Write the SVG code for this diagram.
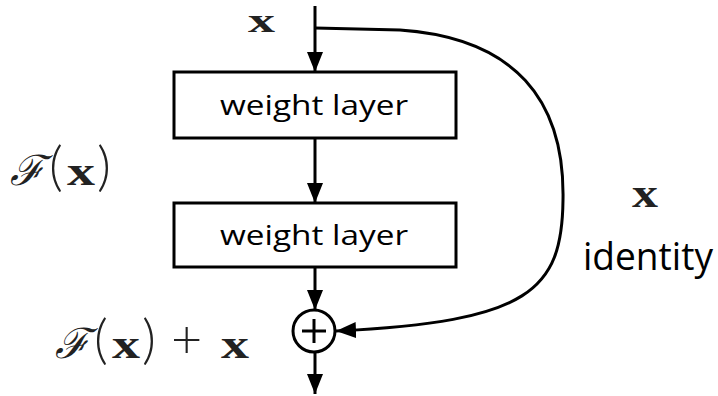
<svg xmlns="http://www.w3.org/2000/svg" width="718" height="396" viewBox="0 0 718 396">
<defs>
<marker id="ah" viewBox="0 0 20 16" refX="20" refY="8" markerWidth="20" markerHeight="16" markerUnits="userSpaceOnUse" orient="auto">
<path d="M0,0 L20,8 L0,16 z" fill="#000"/>
</marker>
<style>
.ln{fill:none;stroke:#000;stroke-width:3}
.box{fill:#fff;stroke:#000;stroke-width:3}
.lbl{font-family:"Open Sans","Liberation Sans",sans-serif;fill:#000}
.math{font-family:"Liberation Serif","DejaVu Serif",serif;fill:#222}
.bx{font-weight:bold;font-size:40px}
.par{font-family:Lato,"Liberation Serif",serif;font-size:54px;font-weight:300}
.cal{font-family:"DejaVu Serif",serif;font-style:italic;font-size:42px}
</style>
</defs>
<rect width="718" height="396" fill="#fff"/>
<g id="connectors">
<line class="ln" x1="315" y1="6" x2="315" y2="72" marker-end="url(#ah)"/>
<line class="ln" x1="315" y1="138" x2="315" y2="203" marker-end="url(#ah)"/>
<line class="ln" x1="315" y1="267" x2="315" y2="310" marker-end="url(#ah)"/>
<line class="ln" x1="315" y1="352" x2="315" y2="394" marker-end="url(#ah)"/>
<path class="ln" d="M315,28 L400,30 C515,38 565,100 563,200 C562,290 530,322 336,331" marker-end="url(#ah)"/>
</g>
<g id="weight1">
<rect class="box" x="174" y="72" width="282" height="66"/>
<text class="lbl" x="314" y="115" font-size="28" text-anchor="middle" textLength="188" lengthAdjust="spacingAndGlyphs">weight layer</text>
</g>
<g id="weight2">
<rect class="box" x="174" y="203" width="282" height="64"/>
<text class="lbl" x="314" y="245" font-size="28" text-anchor="middle" textLength="188" lengthAdjust="spacingAndGlyphs">weight layer</text>
</g>
<g id="sum">
<circle cx="314" cy="331" r="21" fill="#fff" stroke="#000" stroke-width="3"/>
<line class="ln" x1="302" y1="331" x2="326" y2="331"/>
<line class="ln" x1="314" y1="319" x2="314" y2="343"/>
</g>
<g id="labels">
<text class="math" x="248" y="32" font-size="34" font-weight="bold" textLength="27" lengthAdjust="spacingAndGlyphs">x</text>
<text class="math" x="10" y="185"><tspan class="cal">ℱ</tspan><tspan class="par" x="49">(</tspan><tspan class="bx" x="67" textLength="28" lengthAdjust="spacingAndGlyphs">x</tspan><tspan class="par" x="97">)</tspan></text>
<text class="math" x="55" y="358"><tspan class="cal">ℱ</tspan><tspan class="par" x="94">(</tspan><tspan class="bx" x="112" textLength="28" lengthAdjust="spacingAndGlyphs">x</tspan><tspan class="par" x="142">)</tspan><tspan class="par" x="171">+</tspan><tspan class="bx" x="221" textLength="28" lengthAdjust="spacingAndGlyphs">x</tspan></text>
<text class="math" x="632" y="207" font-size="40" font-weight="bold" textLength="26" lengthAdjust="spacingAndGlyphs">x</text>
<text class="lbl" x="583" y="270" font-size="38" textLength="130" lengthAdjust="spacingAndGlyphs">identity</text>
</g>
</svg>
